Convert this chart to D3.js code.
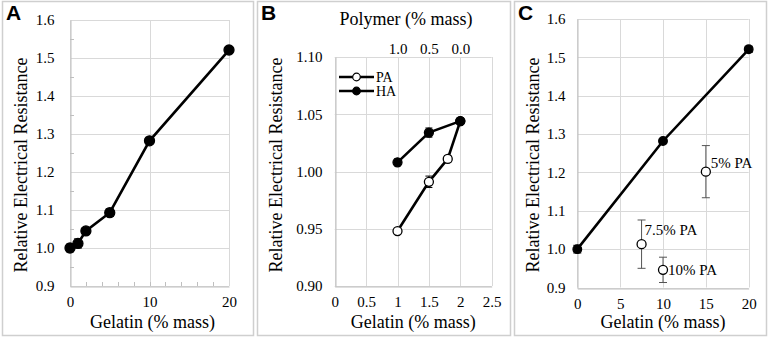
<!DOCTYPE html>
<html>
<head>
<meta charset="utf-8">
<script src="https://cdn.jsdelivr.net/npm/d3@7"></script>
<style>
  body { margin: 0; background: #fff; }
</style>
</head>
<body>
<svg id="chart" width="768" height="339"></svg>
<script>
// panel A: gelatin only
const gelatinA = [0, 1, 2, 5, 10, 20];
const resistA = [1.0, 1.012, 1.045, 1.093, 1.282, 1.521];
const errA = [0.01, 0.012, 0.004, 0.01, 0.004, 0.008];

// panel B: gelatin + polymer (HA / PA)
const gelatinHA = [1, 1.5, 2];
const resistHA = [1.008, 1.034, 1.044];
const errHA = [0.003, 0.004, 0.002];
const gelatinPA = [1, 1.5, 1.8, 2];
const resistPA = [0.948, 0.991, 1.011, 1.044];
const errPA = [0.002, 0.005, 0.003, 0.002];
const polymerTicks = [1.0, 0.5, 0.0];

// panel C
const gelatinC = [0, 10, 20];
const resistC = [1.0, 1.282, 1.521];
const errC = [0.01, 0.004, 0.008];
const paGelatinC = [7.5, 10, 15];
const paResistC = [1.013, 0.946, 1.202];
const paErrC = [0.063, 0.033, 0.068];
const paLabelsC = ["7.5% PA", "10% PA", "5% PA"];

const serif = '"Liberation Serif", "Times New Roman", serif';
const svg = d3.select("#chart");
const gridColor = "#d9d9d9";

function panel(opt) {
  const g = svg.append("g");
  // panel frame
  g.append("rect")
    .attr("x", opt.box[0] + 0.5).attr("y", 1.5)
    .attr("width", opt.box[1] - opt.box[0]).attr("height", 334)
    .attr("fill", "none").attr("stroke", "#cfcfcf").attr("stroke-width", 1.5);

  g.append("text").attr("class", "letter")
    .attr("x", opt.box[0] + 4).attr("y", 20)
    .style("font-family", '"Liberation Sans", Arial, sans-serif')
    .style("font-weight", "bold").style("font-size", "21px")
    .text(opt.letter);

  const x = d3.scaleLinear().domain(opt.xDomain).range([opt.left, opt.right]);
  const y = d3.scaleLinear().domain(opt.yDomain).range([opt.bottom, opt.top]);

  // gridlines
  g.append("g").selectAll("line").data(opt.yTicks).join("line")
    .attr("x1", opt.left).attr("x2", opt.right)
    .attr("y1", d => Math.round(y(d)) + 0.5).attr("y2", d => Math.round(y(d)) + 0.5)
    .attr("stroke", gridColor);
  g.append("g").selectAll("line").data(opt.xTicks).join("line")
    .attr("y1", opt.top).attr("y2", opt.bottom)
    .attr("x1", d => Math.round(x(d)) + 0.5).attr("x2", d => Math.round(x(d)) + 0.5)
    .attr("stroke", gridColor);

  // axes
  const yAxis = g.append("g")
    .attr("transform", `translate(${Math.round(opt.left) + 0.5},0)`)
    .call(d3.axisLeft(y).tickValues(opt.yTicks).tickFormat(d3.format(opt.yFormat)).tickSize(0).tickPadding(opt.yPad));
  const xAxis = g.append("g")
    .attr("transform", `translate(0,${Math.round(opt.bottom) + 0.5})`)
    .call(d3.axisBottom(x).tickValues(opt.xTicks).tickFormat(d3.format(opt.xFormat)).tickSize(0).tickPadding(10));
  [yAxis, xAxis].forEach(a => {
    a.select(".domain").attr("stroke", "#bfbfbf");
    a.selectAll("text").style("font-size", "15px");
  });

  // minor ticks (inside)
  if (opt.yMinor) {
    g.append("g").selectAll("line").data(opt.yMinor).join("line")
      .attr("x1", opt.left).attr("x2", opt.left + 4)
      .attr("y1", d => Math.round(y(d)) + 0.5).attr("y2", d => Math.round(y(d)) + 0.5)
      .attr("stroke", "#bfbfbf");
  }
  if (opt.xMinor) {
    g.append("g").selectAll("line").data(opt.xMinor).join("line")
      .attr("y1", opt.bottom).attr("y2", opt.bottom - 4)
      .attr("x1", d => Math.round(x(d)) + 0.5).attr("x2", d => Math.round(x(d)) + 0.5)
      .attr("stroke", "#bfbfbf");
  }

  // titles
  g.append("text")
    .attr("transform", `translate(${opt.box[0] + 25},165) rotate(-90)`)
    .attr("text-anchor", "middle").style("font-size", "18px")
    .text("Relative Electrical Resistance");
  g.append("text")
    .attr("x", (opt.left + opt.right) / 2 + opt.titleShift).attr("y", 328)
    .attr("text-anchor", "middle").style("font-size", "18px")
    .text("Gelatin (% mass)");

  return { g, x, y };
}

function series(p, xs, ys, errs, opts) {
  const pts = xs.map((d, i) => ({ x: d, y: ys[i], e: errs[i] }));
  if (opts.line) {
    p.g.append("path").datum(pts)
      .attr("d", d3.line().x(d => p.x(d.x)).y(d => p.y(d.y)))
      .attr("fill", "none").attr("stroke", "#000").attr("stroke-width", 2.6);
  }
  const eb = p.g.append("g").attr("stroke", opts.errColor || "#000").attr("stroke-width", 1);
  pts.forEach(d => {
    const cx = p.x(d.x), y1 = p.y(d.y - d.e), y2 = p.y(d.y + d.e);
    eb.append("line").attr("x1", cx).attr("x2", cx).attr("y1", y1).attr("y2", y2);
    eb.append("line").attr("x1", cx - opts.cap).attr("x2", cx + opts.cap).attr("y1", y1).attr("y2", y1);
    eb.append("line").attr("x1", cx - opts.cap).attr("x2", cx + opts.cap).attr("y1", y2).attr("y2", y2);
  });
  p.g.append("g").selectAll("circle").data(pts).join("circle")
    .attr("cx", d => p.x(d.x)).attr("cy", d => p.y(d.y)).attr("r", opts.r)
    .attr("fill", opts.open ? "#fff" : "#000")
    .attr("stroke", "#000").attr("stroke-width", 1.3);
  return pts;
}

// ---- Panel A
const pA = panel({
  letter: "A", box: [2, 253],
  left: 70, right: 229, top: 20, bottom: 286,
  xDomain: [0, 20], yDomain: [0.9, 1.6],
  xTicks: [0, 10, 20], yTicks: d3.range(0.9, 1.601, 0.1),
  xMinor: d3.range(2, 20, 2), yMinor: d3.range(0.95, 1.6, 0.1),
  xFormat: "d", yFormat: ".1f", yPad: 16, titleShift: 3
});
series(pA, gelatinA, resistA, errA, { line: true, r: 5, cap: 4 });

// ---- Panel B
const pB = panel({
  letter: "B", box: [257, 510],
  left: 334.7, right: 491.7, top: 57, bottom: 286,
  xDomain: [0, 2.5], yDomain: [0.9, 1.1],
  xTicks: d3.range(0, 2.501, 0.5), yTicks: d3.range(0.9, 1.1001, 0.05),
  xFormat: "~g", yFormat: ".2f", yPad: 13, titleShift: 0
});
series(pB, gelatinPA, resistPA, errPA, { line: true, r: 4.5, cap: 3.5, open: true });
series(pB, gelatinHA, resistHA, errHA, { line: true, r: 4.5, cap: 3.5 });

// top polymer axis: polymer = 2 - gelatin
const polyScale = d3.scaleLinear().domain([2, -0.5]).range([334.7, 491.7]);
pB.g.append("g")
  .attr("transform", "translate(0,57)")
  .call(d3.axisTop(polyScale).tickValues(polymerTicks).tickFormat(d3.format(".1f")).tickSize(0).tickPadding(3))
  .call(a => a.select(".domain").remove())
  .selectAll("text").style("font-size", "15px");
pB.g.append("text")
  .attr("x", 406).attr("y", 25).attr("text-anchor", "middle").style("font-size", "18px")
  .text("Polymer (% mass)");

// legend
const legend = pB.g.append("g").attr("transform", "translate(339,77)");
[["PA", true], ["HA", false]].forEach(([name, open], i) => {
  const row = legend.append("g").attr("transform", `translate(0,${i * 14})`);
  row.append("line").attr("x1", 0).attr("x2", 35).attr("stroke", "#000").attr("stroke-width", 2.6);
  row.append("circle").attr("cx", 17.5).attr("r", 3.8)
    .attr("fill", open ? "#fff" : "#000").attr("stroke", "#000").attr("stroke-width", 1.2);
  row.append("text").attr("x", 37).attr("y", 5).style("font-size", "14px").text(name);
});

// ---- Panel C
const pC = panel({
  letter: "C", box: [514, 766],
  left: 577.3, right: 748.7, top: 19, bottom: 287.5,
  xDomain: [0, 20], yDomain: [0.9, 1.6],
  xTicks: d3.range(0, 20.01, 5), yTicks: d3.range(0.9, 1.601, 0.1),
  xFormat: "d", yFormat: ".1f", yPad: 12, titleShift: 0
});
series(pC, gelatinC, resistC, errC, { line: true, r: 4.3, cap: 4 });
const paPts = series(pC, paGelatinC, paResistC, paErrC, { line: false, r: 4.5, cap: 4, open: true, errColor: "#555" });

const labelOffset = { "7.5% PA": [3, -9], "10% PA": [5, 5], "5% PA": [5, -4] };
pC.g.append("g").selectAll("text").data(paPts).join("text")
  .attr("x", (d, i) => pC.x(d.x) + labelOffset[paLabelsC[i]][0])
  .attr("y", (d, i) => pC.y(d.y) + labelOffset[paLabelsC[i]][1])
  .style("font-size", "15px")
  .text((d, i) => paLabelsC[i]);

// serif everywhere except the panel letters
svg.selectAll("text:not(.letter)").style("font-family", serif).attr("fill", "#000");
</script>
</body>
</html>
